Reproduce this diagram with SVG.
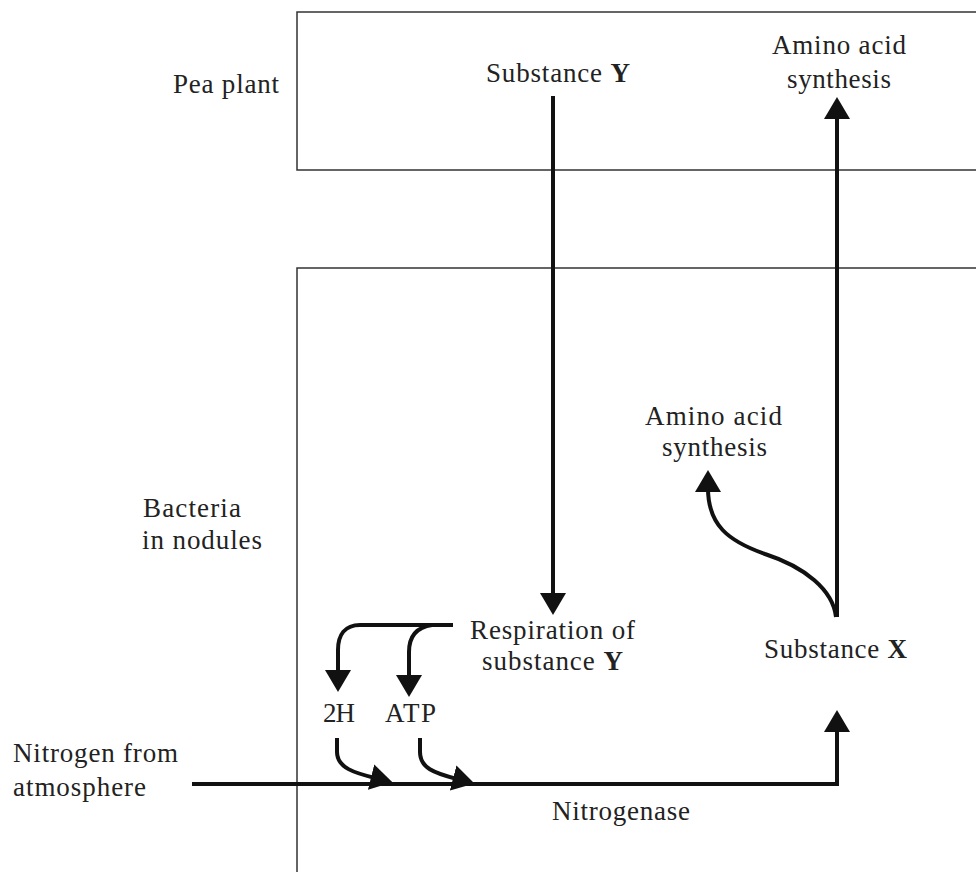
<svg xmlns="http://www.w3.org/2000/svg" width="976" height="872" viewBox="0 0 976 872">
<style>
.t{font-family:"Liberation Serif","Times New Roman",serif;font-size:27px;fill:#222}
.b{font-weight:bold}
.box{fill:none;stroke:#333;stroke-width:1.5}
.c{fill:none;stroke:#111;stroke-width:4;stroke-linejoin:miter}
</style>
<defs>
<marker id="ah" viewBox="0 0 22 26" refX="4" refY="13" markerWidth="22" markerHeight="26" markerUnits="userSpaceOnUse" orient="auto">
<path d="M0,0 L22,13 L0,26 Z" fill="#111"/>
</marker>
</defs>
<rect width="976" height="872" fill="#fff"/>
<g id="pea-plant">
<path class="box" d="M976,12 H297 V170 H976"/>
<text class="t" x="173" y="93" textLength="106" lengthAdjust="spacing">Pea plant</text>
</g>
<g id="bacteria">
<path class="box" d="M976,268 H297 V872"/>
<text class="t" x="143" y="517" textLength="98" lengthAdjust="spacing">Bacteria</text>
<text class="t" x="142" y="549" textLength="120" lengthAdjust="spacing">in nodules</text>
</g>
<g id="substance-y">
<text class="t" x="486" y="82" textLength="144" lengthAdjust="spacing">Substance <tspan class="b">Y</tspan></text>
</g>
<g id="amino-top">
<text class="t" x="772" y="54" textLength="134" lengthAdjust="spacing">Amino acid</text>
<text class="t" x="787" y="88" textLength="104" lengthAdjust="spacing">synthesis</text>
</g>
<g id="amino-lower">
<text class="t" x="645" y="425" textLength="137" lengthAdjust="spacing">Amino acid</text>
<text class="t" x="662" y="456" textLength="105" lengthAdjust="spacing">synthesis</text>
</g>
<g id="respiration">
<text class="t" x="470" y="639" textLength="165" lengthAdjust="spacing">Respiration of</text>
<text class="t" x="482" y="670" textLength="141" lengthAdjust="spacing">substance <tspan class="b">Y</tspan></text>
</g>
<g id="substance-x">
<text class="t" x="764" y="658" textLength="143" lengthAdjust="spacing">Substance <tspan class="b">X</tspan></text>
</g>
<g id="h2">
<text class="t" x="323" y="722" textLength="32" lengthAdjust="spacing">2H</text>
</g>
<g id="atp">
<text class="t" x="385" y="722" textLength="51" lengthAdjust="spacing">ATP</text>
</g>
<g id="nitrogen">
<text class="t" x="13" y="762" textLength="165" lengthAdjust="spacing">Nitrogen from</text>
<text class="t" x="13" y="796" textLength="133" lengthAdjust="spacing">atmosphere</text>
</g>
<g id="nitrogenase">
<text class="t" x="552" y="820" textLength="138" lengthAdjust="spacing">Nitrogenase</text>
</g>
<g id="connectors">
<path class="c" d="M553,96 V597" marker-end="url(#ah)"/>
<path class="c" d="M837,617 V115" marker-end="url(#ah)"/>
<path class="c" d="M836,617 C833,590 805,567 765,554 C728,541 708,525 708,488" marker-end="url(#ah)"/>
<path class="c" d="M192,784 H837 V728" marker-end="url(#ah)"/>
<path class="c" d="M453,625 H360 C345,625 338,635 338,650 V674" marker-end="url(#ah)"/>
<path class="c" d="M432,625 C418,627 409,635 409,652 V679" marker-end="url(#ah)"/>
<path class="c" d="M337,738 V752 C337,768 355,773 375,778" marker-end="url(#ah)"/>
<path class="c" d="M420,738 V752 C420,768 434,773 457,779" marker-end="url(#ah)"/>
</g>
</svg>
